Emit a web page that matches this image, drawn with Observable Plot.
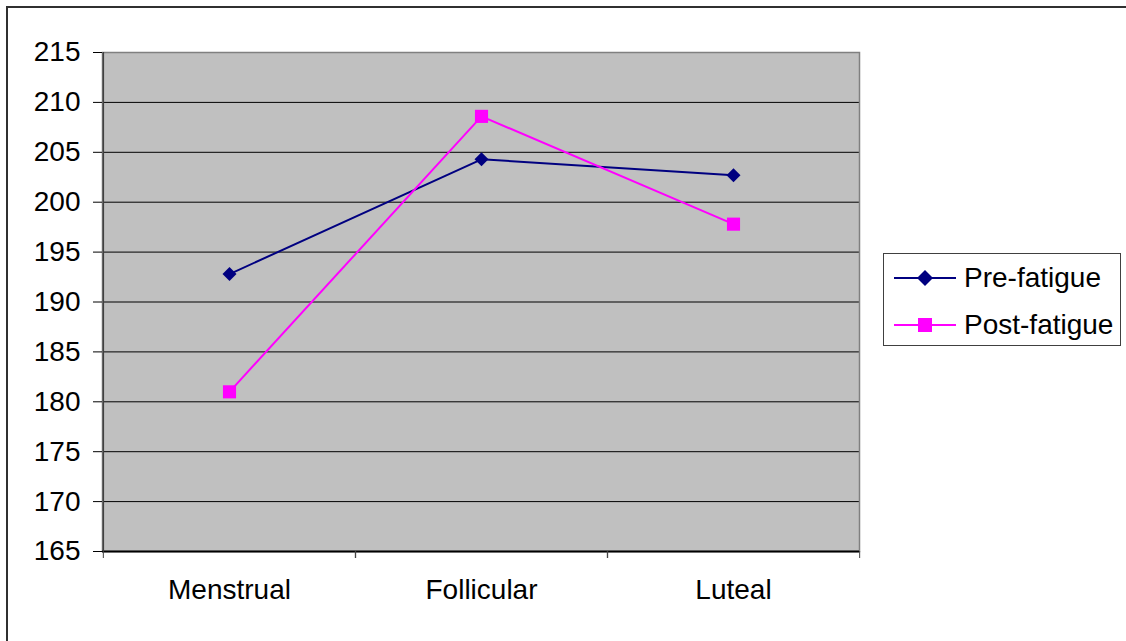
<!DOCTYPE html>
<html><head><meta charset="utf-8">
<script src="https://cdn.jsdelivr.net/npm/d3@7"></script>
<script src="https://cdn.jsdelivr.net/npm/@observablehq/plot@0.6"></script>
<style>
html,body{margin:0;padding:0;background:#fff;overflow:hidden;}
#wrap{position:relative;width:1126px;height:641px;font-family:"Liberation Sans",Arial,sans-serif;}
#wrap svg.plot{position:absolute;left:0;top:0;}
#border{position:absolute;left:6px;top:6px;width:1200px;height:700px;border-top:2px solid #303030;border-left:2px solid #303030;}
#legend{position:absolute;left:883px;top:253px;width:238px;height:93px;border:1px solid #404040;background:#fff;box-sizing:border-box;}
.lrow{position:absolute;left:10px;height:30px;display:flex;align-items:center;font-size:28px;color:#000;white-space:nowrap;}
.lrow svg{margin-right:7px;}
</style></head><body><div id="wrap"><div id="border"></div></div>
<script>
const phases = ["Menstrual", "Follicular", "Luteal"];
const preFatigue = [192.8, 204.3, 202.7];
const postFatigue = [181.0, 208.6, 197.8];
const seriesNames = ["Pre-fatigue", "Post-fatigue"];
const seriesColors = ["#000080", "#FF00FF"];
const seriesSymbols = ["diamond2", "square"];
const yTicks = [165, 170, 175, 180, 185, 190, 195, 200, 205, 210, 215];

const rows = [];
[preFatigue, postFatigue].forEach((vals, s) => {
  phases.forEach((p, i) => rows.push({phase: p, value: vals[i], series: seriesNames[s]}));
});

const W = 1126, H = 641, mL = 102, mR = 267, mT = 52, mB = 90;
const step = (W - mL - mR) / phases.length;

const chart = Plot.plot({
  width: W, height: H,
  marginLeft: mL, marginRight: mR, marginTop: mT, marginBottom: mB,
  style: {fontFamily: '"Liberation Sans", Arial, sans-serif', color: "#000", background: "transparent"},
  x: {type: "point", domain: phases, padding: 0.5, label: null},
  y: {domain: [165, 215], label: null},
  color: {domain: seriesNames, range: seriesColors},
  symbol: {domain: seriesNames, range: seriesSymbols},
  marks: [
    Plot.frame({fill: "#C0C0C0", stroke: null}),
    Plot.gridY(yTicks, {stroke: "#000", strokeOpacity: 1, strokeWidth: 1}),
    Plot.frame({stroke: "#808080", strokeWidth: 1.5}),
    Plot.ruleY([165], {stroke: "#000", strokeWidth: 2}),
    Plot.ruleX([phases[0]], {dx: -step / 2, stroke: "#404040", strokeWidth: 1.5}),
    Plot.axisY({ticks: yTicks, tickSize: 9, tickPadding: 13, fontSize: 28, stroke: "#000", label: null}),
    Plot.axisX({tickSize: 7, dx: -step / 2, tickFormat: () => "", stroke: "#404040", label: null}),
    Plot.axisX({tickSize: 7, dx: step / 2, tickFormat: () => "", stroke: "#404040", label: null}),
    Plot.axisX({tickSize: 0, tickPadding: 28, fontSize: 28, label: null}),
    Plot.line(rows, {x: "phase", y: "value", z: "series", stroke: "series", strokeWidth: 2}),
    Plot.dot(rows.filter(d => d.series === seriesNames[0]), {x: "phase", y: "value", fill: "series", symbol: "series", r: 6.3, stroke: null}),
    Plot.dot(rows.filter(d => d.series === seriesNames[1]), {x: "phase", y: "value", fill: "series", symbol: "series", r: 7.4, stroke: null})
  ]
});
chart.classList.add("plot");
const wrap = document.getElementById("wrap");
wrap.insertBefore(chart, wrap.firstChild);

// legend
const legend = document.createElement("div");
legend.id = "legend";
const symPaths = {
  diamond2: "M31,0 L39,8 L31,16 L23,8 Z",
  square: "M24,1 L38,1 L38,15 L24,15 Z"
};
seriesNames.forEach((name, i) => {
  const row = document.createElement("div");
  row.className = "lrow";
  row.style.top = (i === 0 ? 9 : 56) + "px";
  row.innerHTML = `<svg width="63" height="16" viewBox="0 0 63 16"><line x1="0" y1="8" x2="62" y2="8" stroke="${seriesColors[i]}" stroke-width="2"/><path d="${symPaths[seriesSymbols[i]]}" fill="${seriesColors[i]}"/></svg><span>${name}</span>`;
  legend.appendChild(row);
});
wrap.appendChild(legend);
</script>
</body></html>
